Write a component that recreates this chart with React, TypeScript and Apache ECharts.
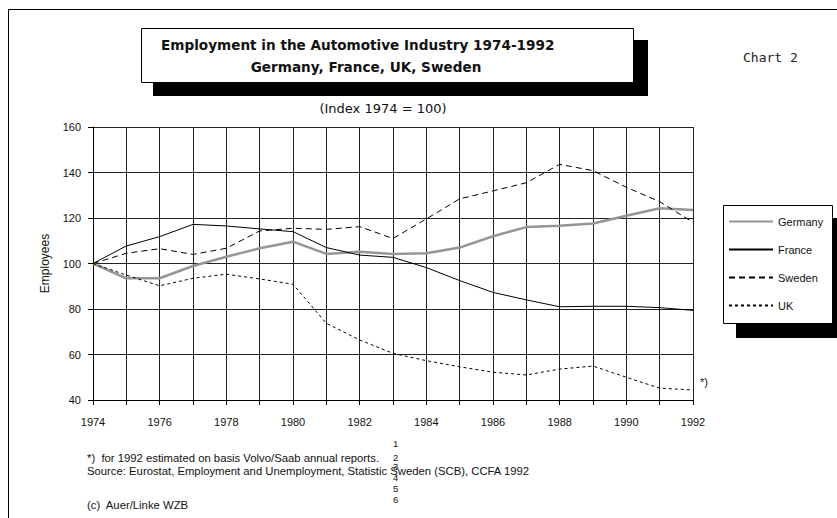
import React, { useEffect, useRef } from "react";
import * as echarts from "echarts";

// Employment index (1974 = 100)
const years = [1974, 1975, 1976, 1977, 1978, 1979, 1980, 1981, 1982, 1983, 1984, 1985, 1986, 1987, 1988, 1989, 1990, 1991, 1992];
const germany = [100, 93.5, 93.5, 98.9, 103, 106.7, 109.6, 104.2, 105.2, 104.2, 104.5, 107, 112, 116, 116.6, 117.6, 121, 124.3, 123.5];
const france = [100, 107.7, 111.8, 117.2, 116.5, 115.2, 114, 107, 103.7, 102.7, 98.2, 92.5, 87.3, 84, 81, 81.2, 81.2, 80.6, 79.4];
const sweden = [100, 104.5, 106.5, 104, 106.7, 114.3, 115.5, 115, 116.2, 111, 119.6, 128.4, 131.9, 135.5, 143.6, 140.8, 133.5, 127.2, 118.1];
const uk = [100, 94.9, 90.2, 93.5, 95.3, 93.2, 90.9, 73.7, 66.4, 60.5, 57.3, 54.6, 52.2, 51, 53.6, 54.9, 50, 45.2, 44.4];

const yTicks = { min: 40, max: 160, step: 20 };
const footnoteMarks = ["1", "2", "3", "4", "5", "6"];

const SANS = "'Liberation Sans', Arial, sans-serif";
const WIDE = "'DejaVu Sans', Verdana, sans-serif";

function pairs(values: number[]) {
  return values.map((v, i) => [years[i], v]);
}

export default function App() {
  const ref = useRef<HTMLDivElement>(null);

  useEffect(() => {
    if (!ref.current) return;
    const chart = echarts.init(ref.current, null, { renderer: "svg" });

    const markYs = [443, 457, 466, 477, 488, 499];

    chart.setOption({
      animation: false,
      backgroundColor: "#fff",
      grid: { left: 93, right: 144, top: 127, bottom: 118 },
      xAxis: {
        type: "value",
        min: years[0],
        max: years[years.length - 1],
        interval: 1,
        axisLine: { show: true, lineStyle: { color: "#000", width: 1 } },
        axisTick: { show: true, length: 5, lineStyle: { color: "#000" } },
        splitLine: { show: true, lineStyle: { color: "#222", width: 1 } },
        axisLabel: {
          margin: 16,
          fontFamily: SANS,
          fontSize: 11,
          color: "#111",
          formatter: (v: number) => (v % 2 === 0 ? String(v) : ""),
        },
      },
      yAxis: {
        type: "value",
        min: yTicks.min,
        max: yTicks.max,
        interval: yTicks.step,
        name: "Employees",
        nameLocation: "middle",
        nameGap: 42,
        nameRotate: 90,
        nameTextStyle: { fontFamily: SANS, fontSize: 12, color: "#111" },
        axisLine: { show: true, lineStyle: { color: "#000", width: 1 } },
        axisTick: { show: true, length: 5, lineStyle: { color: "#000" } },
        splitLine: { show: true, lineStyle: { color: "#222", width: 1 } },
        axisLabel: { margin: 12, fontFamily: SANS, fontSize: 11, color: "#111" },
      },
      legend: {
        orient: "vertical",
        left: 723,
        top: 211,
        itemWidth: 44,
        itemHeight: 10,
        itemGap: 17,
        itemStyle: { opacity: 0 },
        textStyle: { fontFamily: SANS, fontSize: 11, color: "#111" },
        data: ["Germany", "France", "Sweden", "UK"],
      },
      graphic: [
        // page frame
        { type: "rect", shape: { x: 8.5, y: 9.5, width: 840, height: 520 }, style: { fill: "none", stroke: "#000", lineWidth: 1 }, z: 0 },
        // title box with drop shadow
        { type: "rect", shape: { x: 153, y: 40, width: 495, height: 56 }, style: { fill: "#000" }, z: 1 },
        { type: "rect", shape: { x: 141.5, y: 28.5, width: 492, height: 54 }, style: { fill: "#fff", stroke: "#000", lineWidth: 1 }, z: 2 },
        { type: "text", x: 161, y: 45, style: { text: "Employment in the Automotive Industry 1974-1992", font: `bold 13.6px ${WIDE}`, fill: "#111", verticalAlign: "middle" }, z: 3 },
        { type: "text", x: 366, y: 67, style: { text: "Germany, France, UK, Sweden", font: `bold 13.6px ${WIDE}`, fill: "#111", align: "center", verticalAlign: "middle" }, z: 3 },
        { type: "text", x: 383, y: 108, style: { text: "(Index 1974 = 100)", font: `13px ${WIDE}`, fill: "#111", align: "center", verticalAlign: "middle" }, z: 3 },
        { type: "text", x: 743, y: 57, style: { text: "Chart 2", font: `13px 'DejaVu Sans Mono', monospace`, fill: "#222", verticalAlign: "middle" }, z: 3 },
        // legend box with drop shadow
        { type: "rect", shape: { x: 736, y: 218, width: 101, height: 120 }, style: { fill: "#000" }, z: 1 },
        { type: "rect", shape: { x: 723.5, y: 205.5, width: 109, height: 118 }, style: { fill: "#fff", stroke: "#000", lineWidth: 1 }, z: 2 },
        // 1992 estimate marker
        { type: "text", x: 700, y: 382, style: { text: "*)", font: `11px ${SANS}`, fill: "#111", verticalAlign: "middle" }, z: 3 },
        // footnotes
        { type: "text", x: 87, y: 458, style: { text: "*)  for 1992 estimated on basis Volvo/Saab annual reports.", font: `11.3px ${SANS}`, fill: "#111", verticalAlign: "middle" }, z: 3 },
        { type: "text", x: 87, y: 471, style: { text: "Source: Eurostat, Employment and Unemployment, Statistic Sweden (SCB), CCFA 1992", font: `11.3px ${SANS}`, fill: "#111", verticalAlign: "middle" }, z: 3 },
        { type: "text", x: 87, y: 505, style: { text: "(c)  Auer/Linke WZB", font: `11.3px ${SANS}`, fill: "#111", verticalAlign: "middle" }, z: 3 },
        ...footnoteMarks.map((m, i) => ({
          type: "text",
          x: 393,
          y: markYs[i],
          style: { text: m, font: `9.5px ${SANS}`, fill: "#111", verticalAlign: "middle" },
          z: 3,
        })),
      ],
      series: [
        {
          name: "Germany",
          type: "line",
          data: pairs(germany),
          symbol: "none",
          lineStyle: { color: "#959595", width: 2.5 },
          itemStyle: { color: "#959595" },
          z: 2,
        },
        {
          name: "France",
          type: "line",
          data: pairs(france),
          symbol: "none",
          lineStyle: { color: "#000", width: 1 },
          itemStyle: { color: "#000" },
          z: 3,
        },
        {
          name: "Sweden",
          type: "line",
          data: pairs(sweden),
          symbol: "none",
          lineStyle: { color: "#000", width: 1, type: [6, 4] },
          itemStyle: { color: "#000" },
          z: 3,
        },
        {
          name: "UK",
          type: "line",
          data: pairs(uk),
          symbol: "none",
          lineStyle: { color: "#000", width: 1, type: [3, 3] },
          itemStyle: { color: "#000" },
          z: 3,
        },
      ],
    });

    return () => chart.dispose();
  }, []);

  return <div ref={ref} style={{ position: "fixed", left: 0, top: 0, width: 837, height: 518 }} />;
}
